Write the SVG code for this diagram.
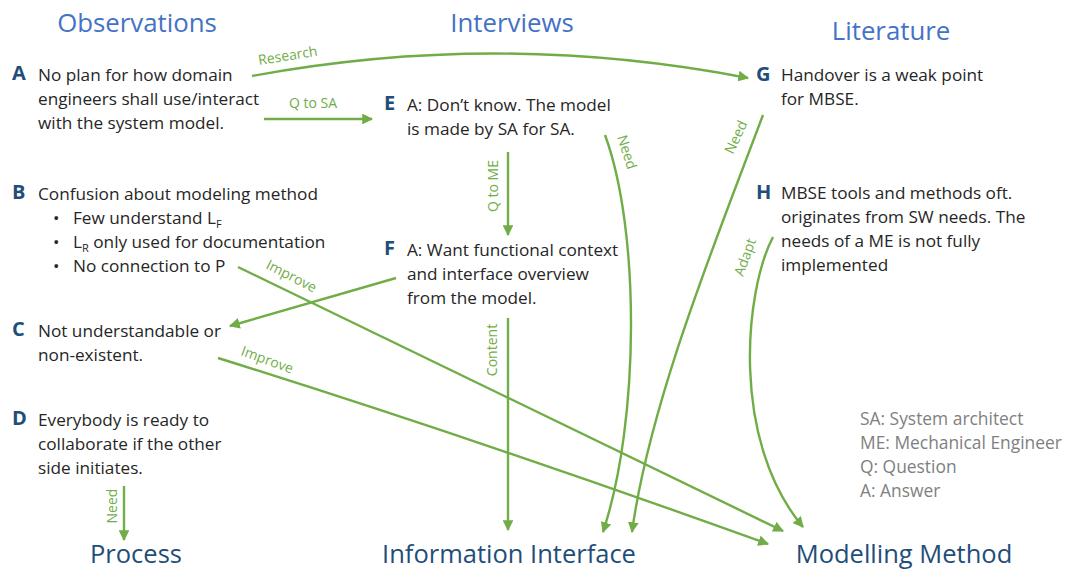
<svg xmlns="http://www.w3.org/2000/svg" width="1069" height="571" viewBox="0 0 1069 571">
<style>
text{font-family:"Open Sans",Lato,"Liberation Sans",sans-serif}
.h1{font-size:25.8px;fill:#4472C4;text-anchor:middle}
.h2{font-size:25.5px;fill:#1F4E79;text-anchor:middle}
.lt{font-size:20px;font-weight:bold;fill:#1F4E79}
.t{font-size:17.2px;fill:#262626}
.lg{font-size:17.4px;fill:#7F7F7F}
.cl{font-size:14px;fill:#70AD47}
.c{fill:none;stroke:#70AD47;stroke-width:2.4}
.sub{font-size:11px}
</style>
<defs>
<marker id="ah" viewBox="0 0 10 10" refX="9" refY="5" markerWidth="4.5" markerHeight="4.5" orient="auto" markerUnits="strokeWidth">
<path d="M0,0 L10,5 L0,10 z" fill="#70AD47"/>
</marker>
</defs>
<rect width="1069" height="571" fill="#fff"/>
<g id="headings">
<text class="h1" x="137" y="32">Observations</text>
<text class="h1" x="512" y="32">Interviews</text>
<text class="h1" x="891" y="40">Literature</text>
</g>
<g id="node-A">
<text class="lt" x="12" y="80">A</text>
<text class="t" x="38" y="81">No plan for how domain</text>
<text class="t" x="38" y="105">engineers shall use/interact</text>
<text class="t" x="38" y="129">with the system model.</text>
</g>
<g id="node-B">
<text class="lt" x="12" y="199">B</text>
<text class="t" x="38" y="200">Confusion about modeling method</text>
<text class="t" x="53" y="224">•</text>
<text class="t" x="73" y="224">Few understand L<tspan class="sub" dy="4">F</tspan></text>
<text class="t" x="53" y="248">•</text>
<text class="t" x="73" y="248">L<tspan class="sub" dy="4">R</tspan><tspan dy="-4"> only used for documentation</tspan></text>
<text class="t" x="53" y="272">•</text>
<text class="t" x="73" y="272">No connection to P</text>
</g>
<g id="node-C">
<text class="lt" x="12" y="336">C</text>
<text class="t" x="38" y="337">Not understandable or</text>
<text class="t" x="38" y="361">non-existent.</text>
</g>
<g id="node-D">
<text class="lt" x="12" y="425">D</text>
<text class="t" x="38" y="426">Everybody is ready to</text>
<text class="t" x="38" y="450">collaborate if the other</text>
<text class="t" x="38" y="474">side initiates.</text>
</g>
<g id="node-E">
<text class="lt" x="384" y="110">E</text>
<text class="t" x="407" y="111">A: Don’t know. The model</text>
<text class="t" x="407" y="135">is made by SA for SA.</text>
</g>
<g id="node-F">
<text class="lt" x="384" y="255">F</text>
<text class="t" x="407" y="256">A: Want functional context</text>
<text class="t" x="407" y="280">and interface overview</text>
<text class="t" x="407" y="304">from the model.</text>
</g>
<g id="node-G">
<text class="lt" x="756" y="81">G</text>
<text class="t" x="781" y="81">Handover is a weak point</text>
<text class="t" x="781" y="105">for MBSE.</text>
</g>
<g id="node-H">
<text class="lt" x="756" y="199">H</text>
<text class="t" x="781" y="199">MBSE tools and methods oft.</text>
<text class="t" x="781" y="223">originates from SW needs. The</text>
<text class="t" x="781" y="247">needs of a ME is not fully</text>
<text class="t" x="781" y="271">implemented</text>
</g>
<g id="legend">
<text class="lg" x="860" y="425">SA: System architect</text>
<text class="lg" x="860" y="449">ME: Mechanical Engineer</text>
<text class="lg" x="860" y="473">Q: Question</text>
<text class="lg" x="860" y="497">A: Answer</text>
</g>
<g id="node-process"><text class="h2" x="136" y="563">Process</text></g>
<g id="node-info"><text class="h2" x="509" y="563">Information Interface</text></g>
<g id="node-method"><text class="h2" x="904" y="563">Modelling Method</text></g>
<g id="connectors">
<path class="c" d="M252,76 Q500,30 748,78" marker-end="url(#ah)"/>
<path class="c" d="M264,119 L372,119" marker-end="url(#ah)"/>
<path class="c" d="M508,152 L508,235" marker-end="url(#ah)"/>
<path class="c" d="M396,278 L230,326" marker-end="url(#ah)"/>
<path class="c" d="M238,267 Q480,383 783,531" marker-end="url(#ah)"/>
<path class="c" d="M218,358 Q480,440 768,544" marker-end="url(#ah)"/>
<path class="c" d="M508,318 L508,530" marker-end="url(#ah)"/>
<path class="c" d="M605,135 C640,230 640,420 603,532" marker-end="url(#ah)"/>
<path class="c" d="M763,115 C720,230 650,400 632,532" marker-end="url(#ah)"/>
<path class="c" d="M773,237 C745,290 730,440 803,527" marker-end="url(#ah)"/>
<path class="c" d="M124,486 L124,540" marker-end="url(#ah)"/>
<text class="cl" transform="translate(259,65) rotate(-9)">Research</text>
<text class="cl" x="313" y="108" text-anchor="middle">Q to SA</text>
<text class="cl" transform="translate(498,186) rotate(-90)" text-anchor="middle">Q to ME</text>
<text class="cl" transform="translate(265,268) rotate(27)">Improve</text>
<text class="cl" transform="translate(240,355) rotate(20)">Improve</text>
<text class="cl" transform="translate(497,350) rotate(-90)" text-anchor="middle">Content</text>
<text class="cl" transform="translate(617,137) rotate(72)">Need</text>
<text class="cl" transform="translate(733,155) rotate(-65)">Need</text>
<text class="cl" transform="translate(743,277) rotate(-70)">Adapt</text>
<text class="cl" transform="translate(117,506) rotate(-90)" text-anchor="middle">Need</text>
</g>
</svg>
